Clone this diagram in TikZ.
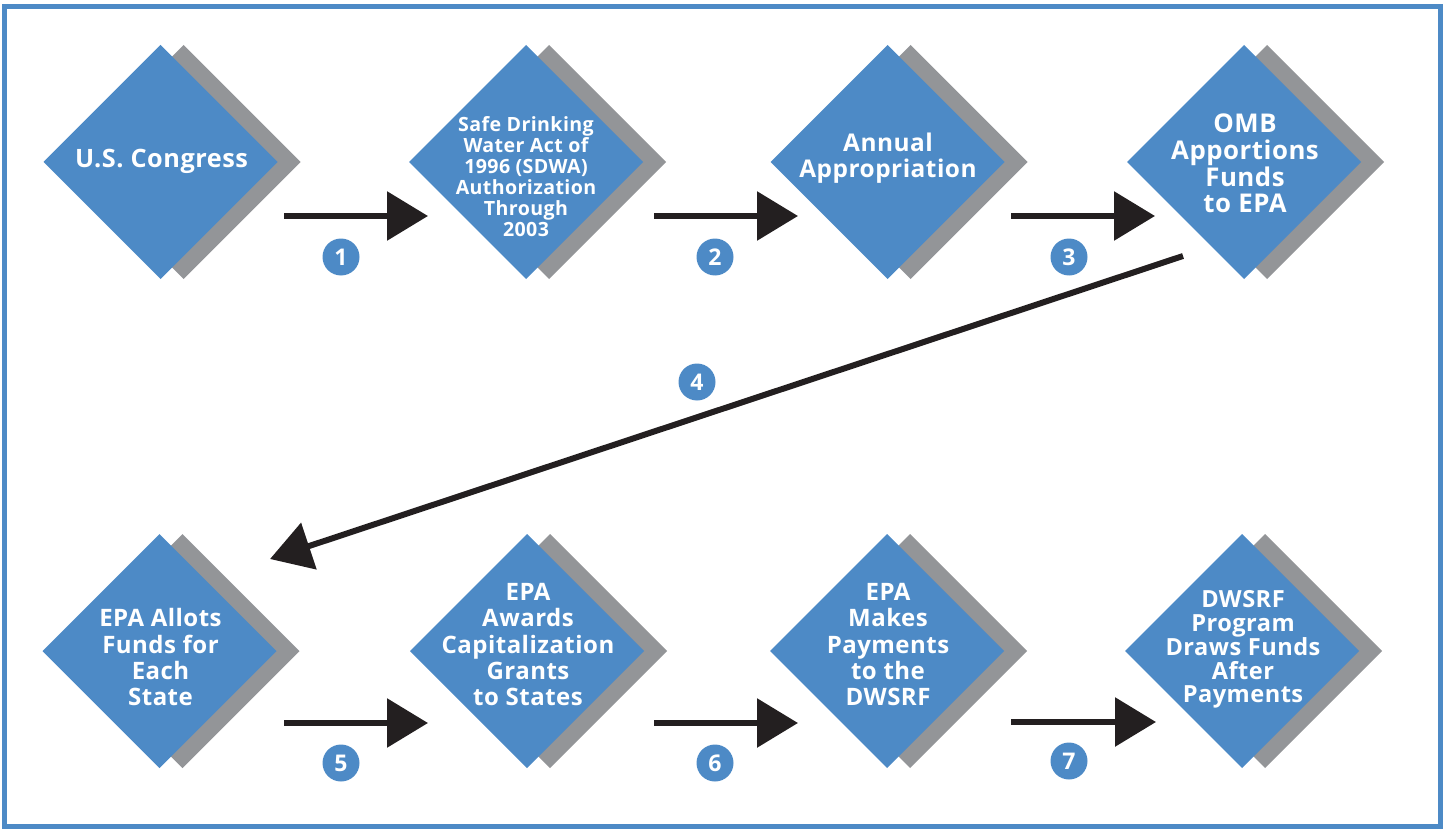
\documentclass[tikz,border=0pt]{standalone}
\usepackage{fontspec}
\setmainfont{Open Sans}[LetterSpace=2]
\usetikzlibrary{shapes.geometric,arrows.meta}
\definecolor{dblue}{RGB}{77,138,198}
\definecolor{dgray}{RGB}{147,149,152}
\definecolor{dblack}{RGB}{35,31,32}
\tikzset{
 box/.style={shape=diamond, fill=dblue, minimum width=234pt, minimum height=234pt, inner sep=0pt, outer sep=0pt, aspect=1},
 shadowbox/.style={box, fill=dgray},
 lbl/.style={anchor=south, text depth=0pt, inner sep=0pt, align=center, text=white, font=\bfseries\fontsize{24}{26.3}\selectfont},
 flow/.style={draw=dblack, line width=6pt, -{Triangle[length=41pt,width=48pt]}},
 num/.style={circle, fill=dblue, minimum size=37pt, inner sep=0pt, text=white, font=\bfseries\fontsize{23}{23}\selectfont},
 frame/.style={draw=dblue, line width=5pt}
}
\begin{document}
\begin{tikzpicture}[x=1pt,y=-1pt]
\useasboundingbox (0,0) rectangle (1445,829);
\draw[frame] (4.5,6.5) rectangle (1440.5,826.5);
% shadows and diamonds
\foreach \n/\x/\y in {1/160.5/162, 2/526/162, 3/887.5/162, 4/1244/162, 5/159.5/651, 6/527/651, 7/887/651, 8/1242/651}{
  \node[shadowbox] (s\n) at (\x+23,\y) {};
  \node[box] (d\n) at (\x,\y) {};
}
% labels
\node[lbl, font=\bfseries\fontsize{25.3}{27}\selectfont] (t1) at (161.5,168) {U.S. Congress};
\node[lbl, font=\bfseries\fontsize{19.6}{21}\selectfont] (t2) at (526,237) {Safe Drinking\\Water Act of\\1996 (SDWA)\\Authorization\\Through\\2003};
\node[lbl, font=\bfseries\fontsize{24.4}{26}\selectfont] (t3) at (888,178) {Annual\\Appropriation};
\node[lbl, font=\bfseries\fontsize{25.8}{26.7}\selectfont] (t4) at (1245,213) {OMB\\Apportions\\Funds\\to EPA};
\node[lbl] (t5) at (160.5,706) {EPA Allots\\Funds for\\Each\\State};
\node[lbl] (t6) at (528,706) {EPA\\Awards\\Capitalization\\Grants\\to States};
\node[lbl] (t7) at (888,706) {EPA\\Makes\\Payments\\to the\\DWSRF};
\node[lbl, font=\bfseries\fontsize{23.6}{23.8}\selectfont] (t8) at (1243,703) {DWSRF\\Program\\Draws Funds\\After\\Payments};
% connector end points
\coordinate (a1s) at (284,216); \coordinate (a1e) at (428,216);
\coordinate (a2s) at (654,216); \coordinate (a2e) at (798,216);
\coordinate (a3s) at (1011,216); \coordinate (a3e) at (1155,216);
\coordinate (a4s) at (1183,256); \coordinate (a4e) at (270,559);
\coordinate (a5s) at (284,723); \coordinate (a5e) at (428,723);
\coordinate (a6s) at (654,723); \coordinate (a6e) at (798,723);
\coordinate (a7s) at (1011,722); \coordinate (a7e) at (1156,722);
\foreach \i in {1,...,7}{ \draw[flow] (a\i s) -- (a\i e); }
% numbers
\node[num] (n1) at (341,257) {1};
\node[num] (n2) at (715,257) {2};
\node[num] (n3) at (1069,257) {3};
\node[num] (n4) at (697,382) {4};
\node[num] (n5) at (341,763) {5};
\node[num] (n6) at (715,763) {6};
\node[num] (n7) at (1069,761) {7};
\end{tikzpicture}
\end{document}
